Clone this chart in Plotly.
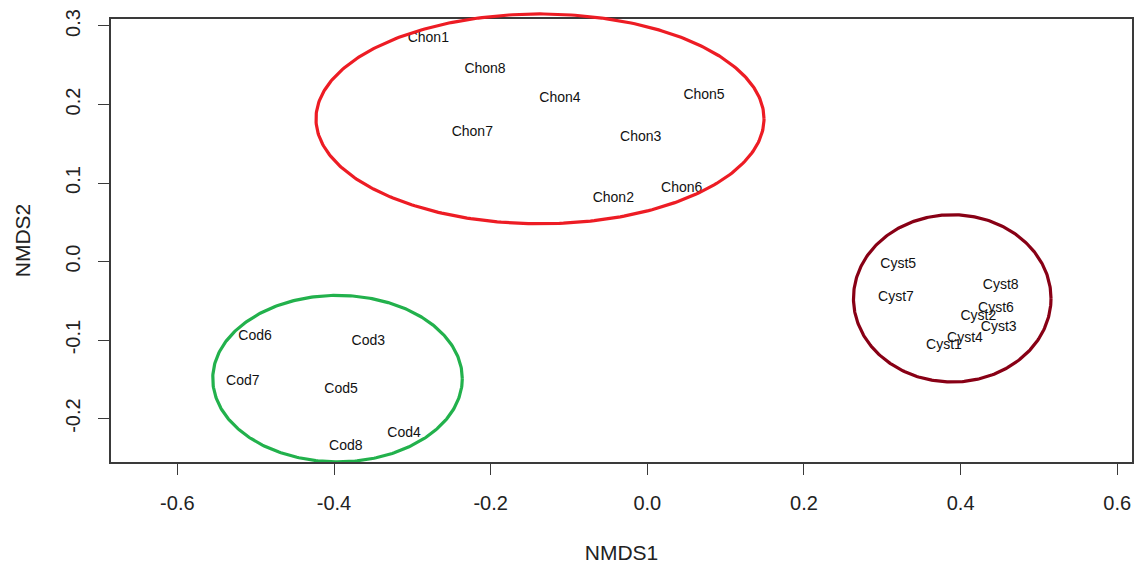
import numpy as np
import plotly.graph_objects as go

# NMDS site scores
chon_labels = ["Chon1", "Chon2", "Chon3", "Chon4", "Chon5", "Chon6", "Chon7", "Chon8"]
chon_x = [-0.2796, -0.0434, -0.0084, -0.1115, 0.0724, 0.0439, -0.2234, -0.2072]
chon_y = [0.2844, 0.0808, 0.1579, 0.2080, 0.2113, 0.0926, 0.1648, 0.2449]

cod_labels = ["Cod3", "Cod4", "Cod5", "Cod6", "Cod7", "Cod8"]
cod_x = [-0.3562, -0.3106, -0.3910, -0.5008, -0.5165, -0.3850]
cod_y = [-0.1024, -0.2191, -0.1631, -0.0953, -0.1525, -0.2360]

cyst_labels = ["Cyst1", "Cyst2", "Cyst3", "Cyst4", "Cyst5", "Cyst6", "Cyst7", "Cyst8"]
cyst_x = [0.3788, 0.4226, 0.4486, 0.4056, 0.3204, 0.4452, 0.3175, 0.4512]
cyst_y = [-0.1071, -0.0706, -0.0846, -0.0982, -0.0041, -0.0592, -0.0452, -0.0308]

# group ellipses: centre and semi-axes in NMDS units
ell_names = ["Chon", "Cod", "Cyst"]
ell_cx = [-0.1370, -0.3955, 0.3893]
ell_cy = [0.1817, -0.1491, -0.0469]
ell_rx = [0.2860, 0.1593, 0.1261]
ell_ry = [0.1336, 0.1060, 0.1065]
ell_colors = ["#ED1C24", "#22B14C", "#880015"]

X_RANGE = [-0.6847, 0.6188]
Y_RANGE = [-0.2553, 0.3089]

W, H = 1137, 566
M_L, M_R, M_T, M_B = 111, 5, 9, 104
BOX_H = 443  # height of the framed panel
PLOT_H = H - M_T - M_B
# ellipse layer gets a little headroom above the frame, same scale
y_scale = (Y_RANGE[1] - Y_RANGE[0]) / BOX_H
Y_RANGE_ELL = [Y_RANGE[0], Y_RANGE[0] + y_scale * PLOT_H]

FONT = "Liberation Sans, Arial, sans-serif"

fig = go.Figure()

for labels, xs, ys in [(chon_labels, chon_x, chon_y),
                       (cod_labels, cod_x, cod_y),
                       (cyst_labels, cyst_x, cyst_y)]:
    fig.add_trace(go.Scatter(
        x=xs, y=ys, text=labels, mode="text",
        textposition="middle center",
        textfont=dict(family=FONT, size=14, color="#111111"),
        showlegend=False, hoverinfo="text",
        xaxis="x", yaxis="y",
    ))

t = np.linspace(0, 2 * np.pi, 361)
for name, cx, cy, rx, ry, col in zip(ell_names, ell_cx, ell_cy, ell_rx, ell_ry, ell_colors):
    fig.add_trace(go.Scatter(
        x=cx + rx * np.cos(t), y=cy + ry * np.sin(t),
        mode="lines", line=dict(color=col, width=3.2),
        name=name, showlegend=False, hoverinfo="skip",
        xaxis="x2", yaxis="y2",
    ))

axis_common = dict(
    showgrid=False, zeroline=False,
    showline=True, mirror=True, linecolor="#3a3a3a", linewidth=1.6,
    ticks="outside", ticklen=11, tickwidth=1.4, tickcolor="#3a3a3a",
    tickfont=dict(family=FONT, size=20, color="#222222"),
)

fig.update_layout(
    width=W, height=H,
    margin=dict(l=M_L, r=M_R, t=M_T, b=M_B, autoexpand=False),
    paper_bgcolor="white", plot_bgcolor="rgba(0,0,0,0)",
    xaxis=dict(
        range=X_RANGE, domain=[0, 1], anchor="y",
        tickvals=[-0.6, -0.4, -0.2, 0.0, 0.2, 0.4, 0.6],
        ticktext=["-0.6", "-0.4", "-0.2", "0.0", "0.2", "0.4", "0.6"],
        ticklabelstandoff=11,
        title=dict(text="NMDS1", font=dict(family=FONT, size=21, color="#222222"), standoff=33),
        automargin=False,
        **axis_common,
    ),
    yaxis=dict(
        range=Y_RANGE, domain=[0, BOX_H / PLOT_H], anchor="x",
        tickvals=[-0.2, -0.1, 0.0, 0.1, 0.2, 0.3],
        ticktext=["-0.2", "-0.1", "0.0", "0.1", "0.2", "0.3"],
        tickangle=-90, ticklabelstandoff=10,
        title=dict(text="NMDS2", font=dict(family=FONT, size=21, color="#222222"), standoff=26),
        automargin=False,
        **axis_common,
    ),
    xaxis2=dict(range=X_RANGE, domain=[0, 1], anchor="y2", visible=False, fixedrange=True),
    yaxis2=dict(range=Y_RANGE_ELL, domain=[0, 1], anchor="x2", visible=False, fixedrange=True),
)

fig.write_html("out.html")
